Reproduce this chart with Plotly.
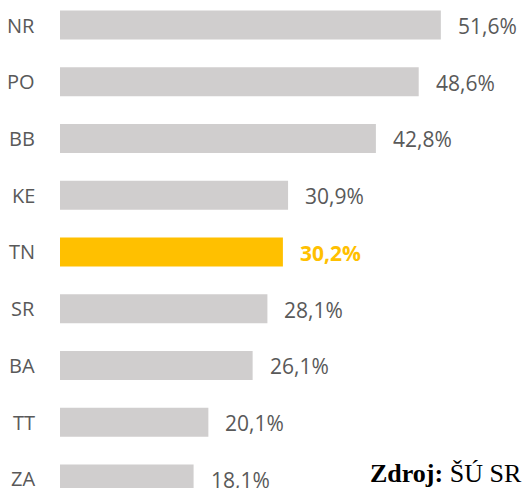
import plotly.graph_objects as go

regions = ["NR", "PO", "BB", "KE", "TN", "SR", "BA", "TT", "ZA"]
values = [51.6, 48.6, 42.8, 30.9, 30.2, 28.1, 26.1, 20.1, 18.1]
labels = ["51,6%", "48,6%", "42,8%", "30,9%", "30,2%", "28,1%", "26,1%", "20,1%", "18,1%"]
highlight = "TN"

GREY = "#D0CECE"
GOLD = "#FFC000"
TEXT = "#595959"
FONT = "Open Sans"

colors = [GOLD if r == highlight else GREY for r in regions]

fig = go.Figure(go.Bar(
    x=values, y=regions, orientation="h",
    marker=dict(color=colors, line=dict(width=0)),
    width=0.51, hoverinfo="skip",
))

annotations = []
for r, v, lab in zip(regions, values, labels):
    hi = r == highlight
    annotations.append(dict(
        x=v, y=r, xref="x", yref="y", text=f"<b>{lab}</b>" if hi else lab,
        showarrow=False, xanchor="left", xshift=15, yshift=-1,
        font=dict(family=FONT, size=21, color=GOLD if hi else TEXT),
    ))
    annotations.append(dict(
        x=0, y=r, xref="x", yref="y", text=r,
        showarrow=False, xanchor="right", xshift=-23,
        font=dict(family=FONT, size=20, color=TEXT),
    ))

annotations.append(dict(
    x=1, y=0, xref="paper", yref="paper", xanchor="right", yanchor="bottom",
    text="<b>Zdroj:</b> ŠÚ SR", showarrow=False, xshift=-1, yshift=-2,
    font=dict(family="Liberation Serif", size=26, color="#000000"),
))

fig.update_layout(
    width=525, height=488,
    margin=dict(l=60, r=0, t=0, b=0),
    paper_bgcolor="white", plot_bgcolor="white",
    showlegend=False,
    xaxis=dict(range=[0, 63.0], visible=False, fixedrange=True),
    yaxis=dict(type="category", categoryorder="array", categoryarray=regions,
               range=[8.159, -0.4405], visible=False, fixedrange=True),
    annotations=annotations,
)

fig.write_html(
    "out.html",
    config={"displayModeBar": False},
    post_script="document.body.style.margin='0';document.body.style.overflow='hidden';",
)
